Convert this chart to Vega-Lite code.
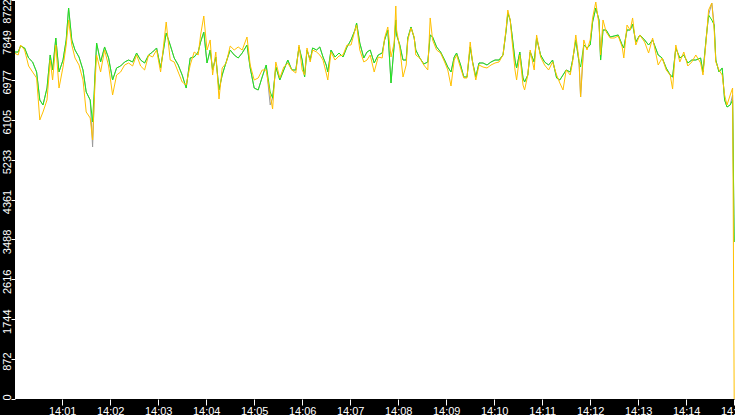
{
  "$schema": "https://vega.github.io/schema/vega-lite/v6.json",
  "width": 720,
  "height": 399,
  "autosize": {"type": "none"},
  "padding": {"left": 15, "top": 0, "right": 0, "bottom": 16},
  "background": "black",
  "config": {
    "view": {"fill": "white", "stroke": null},
    "axis": {
      "domain": false,
      "grid": false,
      "title": null,
      "tickColor": "white",
      "tickWidth": 1,
      "labelColor": "white",
      "labelFont": "Liberation Sans",
      "labelFontSize": 11,
      "labelOverlap": false,
      "labelFlush": false,
      "labelBound": false
    }
  },
  "data": {
    "values": [
      {"s":0,"orange":7563,"green":7585,"gray":7585},
      {"s":5,"orange":7520,"green":7585,"gray":7585},
      {"s":8,"orange":7738,"green":7716,"gray":7716},
      {"s":13,"orange":7629,"green":7673,"gray":7673},
      {"s":18,"orange":7279,"green":7454,"gray":7454},
      {"s":23,"orange":7148,"green":7367,"gray":7367},
      {"s":28,"orange":7017,"green":7148,"gray":7148},
      {"s":32,"orange":6099,"green":6536,"gray":6536},
      {"s":36,"orange":6274,"green":6427,"gray":6427},
      {"s":41,"orange":6536,"green":6798,"gray":6798},
      {"s":45,"orange":7410,"green":7520,"gray":7520},
      {"s":48,"orange":6973,"green":7192,"gray":7192},
      {"s":52,"orange":7738,"green":7891,"gray":7891},
      {"s":56,"orange":6798,"green":7148,"gray":7148},
      {"s":61,"orange":7257,"green":7410,"gray":7410},
      {"s":65,"orange":7738,"green":7848,"gray":7848},
      {"s":68,"orange":8285,"green":8547,"gray":8547},
      {"s":72,"orange":7738,"green":7848,"gray":7848},
      {"s":76,"orange":7454,"green":7629,"gray":7629},
      {"s":81,"orange":7301,"green":7476,"gray":7476},
      {"s":86,"orange":6973,"green":7192,"gray":7192},
      {"s":90,"orange":6274,"green":6711,"gray":6711},
      {"s":95,"orange":6143,"green":6536,"gray":6536},
      {"s":98,"orange":5662,"green":6055,"gray":5509},
      {"s":101,"orange":6908,"green":7082,"gray":7082},
      {"s":103,"orange":7520,"green":7782,"gray":7782},
      {"s":108,"orange":7148,"green":7367,"gray":7367},
      {"s":113,"orange":7629,"green":7695,"gray":7695},
      {"s":118,"orange":7279,"green":7454,"gray":7454},
      {"s":123,"orange":6645,"green":6973,"gray":6973},
      {"s":128,"orange":7082,"green":7236,"gray":7236},
      {"s":133,"orange":7148,"green":7279,"gray":7279},
      {"s":138,"orange":7301,"green":7367,"gray":7367},
      {"s":143,"orange":7345,"green":7410,"gray":7410},
      {"s":148,"orange":7279,"green":7367,"gray":7367},
      {"s":153,"orange":7520,"green":7563,"gray":7563},
      {"s":158,"orange":7279,"green":7410,"gray":7410},
      {"s":163,"orange":7192,"green":7345,"gray":7345},
      {"s":168,"orange":7520,"green":7520,"gray":7520},
      {"s":173,"orange":7476,"green":7585,"gray":7585},
      {"s":178,"orange":7629,"green":7673,"gray":7673},
      {"s":183,"orange":7148,"green":7236,"gray":7236},
      {"s":190,"orange":8241,"green":8001,"gray":8001},
      {"s":195,"orange":7410,"green":7738,"gray":7738},
      {"s":200,"orange":7367,"green":7454,"gray":7454},
      {"s":205,"orange":7148,"green":7301,"gray":7301},
      {"s":210,"orange":6929,"green":7082,"gray":7082},
      {"s":215,"orange":6864,"green":6798,"gray":6798},
      {"s":220,"orange":7301,"green":7454,"gray":7454},
      {"s":225,"orange":7585,"green":7476,"gray":7476},
      {"s":230,"orange":7520,"green":7585,"gray":7585},
      {"s":233,"orange":7957,"green":7804,"gray":7804},
      {"s":237,"orange":8372,"green":8022,"gray":8022},
      {"s":241,"orange":7629,"green":7345,"gray":7345},
      {"s":245,"orange":7848,"green":7629,"gray":7629},
      {"s":248,"orange":7082,"green":7192,"gray":7192},
      {"s":252,"orange":7585,"green":7476,"gray":7476},
      {"s":256,"orange":6558,"green":6755,"gray":6755},
      {"s":260,"orange":7236,"green":7082,"gray":7082},
      {"s":265,"orange":7345,"green":7367,"gray":7367},
      {"s":270,"orange":7716,"green":7629,"gray":7629},
      {"s":275,"orange":7629,"green":7520,"gray":7520},
      {"s":280,"orange":7695,"green":7454,"gray":7454},
      {"s":285,"orange":7629,"green":7563,"gray":7563},
      {"s":291,"orange":7913,"green":7738,"gray":7738},
      {"s":295,"orange":7301,"green":7236,"gray":7236},
      {"s":300,"orange":6973,"green":6798,"gray":6798},
      {"s":305,"orange":7017,"green":6755,"gray":6755},
      {"s":310,"orange":7192,"green":7039,"gray":7039},
      {"s":315,"orange":7192,"green":7301,"gray":7301},
      {"s":320,"orange":6645,"green":6711,"gray":6427},
      {"s":323,"orange":6339,"green":6580,"gray":6580},
      {"s":327,"orange":7367,"green":7257,"gray":7257},
      {"s":332,"orange":7017,"green":6973,"gray":6973},
      {"s":337,"orange":7257,"green":7192,"gray":7192},
      {"s":342,"orange":7345,"green":7410,"gray":7410},
      {"s":347,"orange":7192,"green":7192,"gray":7192},
      {"s":352,"orange":7126,"green":7192,"gray":7192},
      {"s":356,"orange":7738,"green":7695,"gray":7695},
      {"s":360,"orange":7192,"green":7410,"gray":7410},
      {"s":363,"orange":7082,"green":7039,"gray":7039},
      {"s":366,"orange":7673,"green":7629,"gray":7629},
      {"s":370,"orange":7367,"green":7410,"gray":7410},
      {"s":373,"orange":7629,"green":7673,"gray":7673},
      {"s":378,"orange":7585,"green":7629,"gray":7629},
      {"s":382,"orange":7520,"green":7695,"gray":7695},
      {"s":386,"orange":7410,"green":7476,"gray":7476},
      {"s":390,"orange":7126,"green":7301,"gray":7301},
      {"s":392,"orange":6973,"green":7148,"gray":7148},
      {"s":396,"orange":7585,"green":7629,"gray":7629},
      {"s":401,"orange":7410,"green":7476,"gray":7476},
      {"s":406,"orange":7498,"green":7563,"gray":7563},
      {"s":411,"orange":7520,"green":7476,"gray":7476},
      {"s":416,"orange":7738,"green":7695,"gray":7695},
      {"s":421,"orange":7738,"green":7848,"gray":7848},
      {"s":426,"orange":8066,"green":8066,"gray":8066},
      {"s":428,"orange":8175,"green":8219,"gray":8219},
      {"s":432,"orange":7629,"green":7782,"gray":7782},
      {"s":437,"orange":7367,"green":7454,"gray":7454},
      {"s":441,"orange":7410,"green":7585,"gray":7585},
      {"s":445,"orange":7520,"green":7629,"gray":7629},
      {"s":450,"orange":7148,"green":7345,"gray":7345},
      {"s":455,"orange":7476,"green":7520,"gray":7520},
      {"s":460,"orange":7454,"green":7563,"gray":7563},
      {"s":463,"orange":7891,"green":7848,"gray":7848},
      {"s":467,"orange":8132,"green":8066,"gray":8066},
      {"s":471,"orange":7476,"green":6908,"gray":6908},
      {"s":475,"orange":7782,"green":7738,"gray":7738},
      {"s":477,"orange":8591,"green":8285,"gray":8285},
      {"s":478,"orange":8066,"green":7957,"gray":7957},
      {"s":482,"orange":7673,"green":7738,"gray":7738},
      {"s":486,"orange":7039,"green":7410,"gray":7410},
      {"s":490,"orange":7301,"green":7410,"gray":7410},
      {"s":492,"orange":7848,"green":7891,"gray":7891},
      {"s":496,"orange":8110,"green":8132,"gray":8132},
      {"s":500,"orange":7913,"green":7891,"gray":7891},
      {"s":502,"orange":7520,"green":7629,"gray":7629},
      {"s":507,"orange":7454,"green":7454,"gray":7454},
      {"s":512,"orange":7301,"green":7323,"gray":7323},
      {"s":517,"orange":7192,"green":7367,"gray":7367},
      {"s":520,"orange":8329,"green":7957,"gray":7957},
      {"s":523,"orange":7848,"green":7913,"gray":7913},
      {"s":528,"orange":7629,"green":7695,"gray":7695},
      {"s":533,"orange":7563,"green":7585,"gray":7585},
      {"s":538,"orange":7367,"green":7410,"gray":7410},
      {"s":542,"orange":7192,"green":7257,"gray":7257},
      {"s":546,"orange":6842,"green":7148,"gray":7148},
      {"s":550,"orange":7410,"green":7476,"gray":7476},
      {"s":553,"orange":7520,"green":7563,"gray":7563},
      {"s":558,"orange":7236,"green":7301,"gray":7301},
      {"s":562,"orange":7017,"green":7039,"gray":7039},
      {"s":566,"orange":7017,"green":7039,"gray":7039},
      {"s":570,"orange":7804,"green":7695,"gray":7695},
      {"s":573,"orange":7345,"green":7367,"gray":7367},
      {"s":577,"orange":6973,"green":7039,"gray":7039},
      {"s":581,"orange":7301,"green":7345,"gray":7345},
      {"s":586,"orange":7257,"green":7345,"gray":7345},
      {"s":591,"orange":7236,"green":7301,"gray":7301},
      {"s":596,"orange":7301,"green":7367,"gray":7367},
      {"s":601,"orange":7345,"green":7410,"gray":7410},
      {"s":606,"orange":7367,"green":7410,"gray":7410},
      {"s":611,"orange":7520,"green":7520,"gray":7520},
      {"s":615,"orange":8110,"green":8066,"gray":8066},
      {"s":617,"orange":8503,"green":8438,"gray":8438},
      {"s":620,"orange":8285,"green":8285,"gray":8285},
      {"s":622,"orange":7891,"green":8001,"gray":8001},
      {"s":626,"orange":7192,"green":7410,"gray":7410},
      {"s":628,"orange":6973,"green":7236,"gray":7236},
      {"s":632,"orange":7520,"green":7585,"gray":7585},
      {"s":636,"orange":6864,"green":7017,"gray":7017},
      {"s":638,"orange":6755,"green":6929,"gray":6929},
      {"s":642,"orange":7082,"green":7082,"gray":7082},
      {"s":645,"orange":7629,"green":7585,"gray":7585},
      {"s":650,"orange":7192,"green":7367,"gray":7367},
      {"s":653,"orange":7957,"green":7891,"gray":7891},
      {"s":658,"orange":7476,"green":7520,"gray":7520},
      {"s":663,"orange":7301,"green":7367,"gray":7367},
      {"s":668,"orange":7192,"green":7301,"gray":7301},
      {"s":673,"orange":7367,"green":7410,"gray":7410},
      {"s":678,"orange":7082,"green":7017,"gray":7017},
      {"s":682,"orange":6908,"green":6973,"gray":6973},
      {"s":686,"orange":6755,"green":7082,"gray":7082},
      {"s":690,"orange":7192,"green":7192,"gray":7192},
      {"s":695,"orange":7082,"green":7148,"gray":7148},
      {"s":698,"orange":7367,"green":7410,"gray":7410},
      {"s":702,"orange":7957,"green":7848,"gray":7848},
      {"s":706,"orange":7410,"green":7367,"gray":7367},
      {"s":708,"orange":6602,"green":7257,"gray":6602},
      {"s":712,"orange":7848,"green":7738,"gray":7738},
      {"s":716,"orange":7629,"green":7673,"gray":7673},
      {"s":720,"orange":7848,"green":7738,"gray":7738},
      {"s":723,"orange":8329,"green":8241,"gray":8241},
      {"s":727,"orange":8678,"green":8547,"gray":8547},
      {"s":731,"orange":8175,"green":8285,"gray":8285},
      {"s":733,"orange":7520,"green":7410,"gray":7410},
      {"s":736,"orange":8285,"green":8066,"gray":8066},
      {"s":740,"orange":8022,"green":8066,"gray":8066},
      {"s":745,"orange":7891,"green":7913,"gray":7913},
      {"s":750,"orange":7891,"green":7935,"gray":7935},
      {"s":755,"orange":7935,"green":7957,"gray":7957},
      {"s":760,"orange":7695,"green":7738,"gray":7738},
      {"s":762,"orange":7454,"green":7673,"gray":7673},
      {"s":766,"orange":8175,"green":8066,"gray":8066},
      {"s":770,"orange":8066,"green":8066,"gray":8066},
      {"s":773,"orange":8329,"green":8197,"gray":8197},
      {"s":777,"orange":7738,"green":7804,"gray":7804},
      {"s":782,"orange":7957,"green":7957,"gray":7957},
      {"s":788,"orange":7804,"green":7848,"gray":7848},
      {"s":793,"orange":7563,"green":7738,"gray":7738},
      {"s":798,"orange":7891,"green":7848,"gray":7848},
      {"s":805,"orange":7301,"green":7520,"gray":7520},
      {"s":810,"orange":7454,"green":7454,"gray":7454},
      {"s":815,"orange":7192,"green":7236,"gray":7236},
      {"s":820,"orange":7082,"green":7082,"gray":7082},
      {"s":823,"orange":6776,"green":7039,"gray":7039},
      {"s":827,"orange":7738,"green":7673,"gray":7673},
      {"s":832,"orange":7367,"green":7454,"gray":7454},
      {"s":837,"orange":7585,"green":7520,"gray":7520},
      {"s":842,"orange":7279,"green":7345,"gray":7345},
      {"s":847,"orange":7367,"green":7410,"gray":7410},
      {"s":852,"orange":7520,"green":7410,"gray":7410},
      {"s":858,"orange":7345,"green":7454,"gray":7454},
      {"s":861,"orange":7082,"green":7148,"gray":7148},
      {"s":865,"orange":7848,"green":7891,"gray":7891},
      {"s":868,"orange":8503,"green":8394,"gray":8394},
      {"s":872,"orange":8656,"green":8285,"gray":8656},
      {"s":875,"orange":8066,"green":8175,"gray":8175},
      {"s":877,"orange":7367,"green":7410,"gray":7410},
      {"s":881,"orange":7192,"green":7148,"gray":7148},
      {"s":885,"orange":7082,"green":7236,"gray":7236},
      {"s":888,"orange":6645,"green":6536,"gray":6536},
      {"s":891,"orange":6427,"green":6383,"gray":6383},
      {"s":895,"orange":6645,"green":6427,"gray":6427},
      {"s":898,"orange":6798,"green":6536,"gray":6645},
      {"s":900,"orange":0,"green":3432,"gray":3432}
    ]
  },
  "transform": [
    {"fold": ["gray", "green", "orange"], "as": ["series", "value"]}
  ],
  "mark": {"type": "line", "strokeWidth": 1, "clip": true},
  "encoding": {
    "x": {
      "field": "s",
      "type": "quantitative",
      "scale": {"domain": [1, 901], "nice": false, "zero": false},
      "axis": {
        "values": [60, 120, 180, 240, 300, 360, 420, 480, 540, 600, 660, 720, 780, 840, 900],
        "labelExpr": "'14:' + (datum.value < 600 ? '0' : '') + (datum.value / 60)",
        "tickSize": 6,
        "labelPadding": 0
      }
    },
    "y": {
      "field": "value",
      "type": "quantitative",
      "scale": {"domain": [0, 8722], "nice": false},
      "axis": {
        "values": [0, 872, 1744, 2616, 3488, 4361, 5233, 6105, 6977, 7849, 8722],
        "format": "d",
        "labelOverlap": false,
        "labelAngle": 270,
        "labelAlign": "center",
        "labelBaseline": "alphabetic",
        "tickSize": 4,
        "labelPadding": 1,
        "labelOffset": {
          "condition": [
            {"test": "datum.value == 0", "value": -2},
            {"test": "datum.value > 8700", "value": 11}
          ],
          "value": 2
        }
      }
    },
    "color": {
      "field": "series",
      "type": "nominal",
      "legend": null,
      "scale": {"domain": ["gray", "green", "orange"], "range": ["#9a9a9a", "#1ee61e", "#ffc000"]}
    }
  }
}
